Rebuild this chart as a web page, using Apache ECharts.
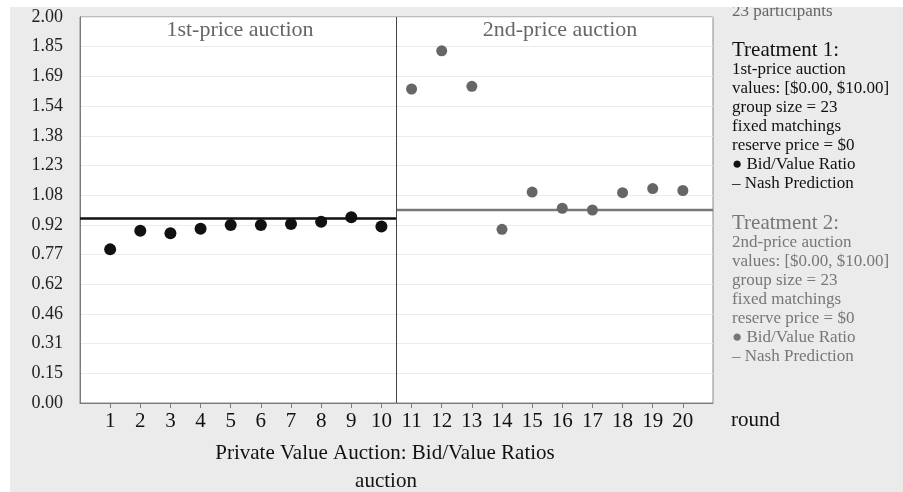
<!DOCTYPE html>
<html>
<head>
<meta charset="utf-8">
<script src="https://cdn.jsdelivr.net/npm/echarts@6/dist/echarts.min.js"></script>
<style>
  html, body { margin: 0; padding: 0; background: #fff; }
  #main { width: 903px; height: 492px; }
</style>
</head>
<body>
<div id="main"></div>
<script>
// 轮次
const rounds1 = [1, 2, 3, 4, 5, 6, 7, 8, 9, 10];
const rounds2 = [11, 12, 13, 14, 15, 16, 17, 18, 19, 20];
// 出价/价值比
const ratio1 = [0.796, 0.893, 0.879, 0.903, 0.922, 0.922, 0.927, 0.939, 0.962, 0.914];
const ratio2 = [1.627, 1.825, 1.641, 0.900, 1.093, 1.009, 1.000, 1.090, 1.111, 1.101];
// 纳什预测
const nash1 = 22 / 23;
const nash2 = 1.0;
// 坐标轴刻度
const yTickLabels = ["0.00", "0.15", "0.31", "0.46", "0.62", "0.77", "0.92",
  "1.08", "1.23", "1.38", "1.54", "1.69", "1.85", "2.00"];
const xTicks = rounds1.concat(rounds2);
const xMax = 21;
const split = 10.5;

const serif = "'Liberation Serif', 'DejaVu Serif', serif";

const chart = echarts.init(document.getElementById("main"), null, { renderer: "canvas" });

const pts1 = rounds1.map((r, i) => [r, ratio1[i]]);
const pts2 = rounds2.map((r, i) => [r, ratio2[i]]);

const options = {
  backgroundColor: "#ebebeb",
  animation: false,
  grid: {
    left: 80,
    top: 17,
    right: 190,
    bottom: 89,
    show: true,
    backgroundColor: "#fff",
    borderColor: "#8a8a8a",
    borderWidth: 1,
  },
  xAxis: {
    type: "value",
    min: 0,
    max: xMax,
    axisLine: { show: true, lineStyle: { color: "#7a7a7a", width: 1 } },
    axisTick: {
      show: true,
      customValues: xTicks,
      length: 5,
      lineStyle: { color: "#7a7a7a" },
    },
    axisLabel: {
      customValues: xTicks,
      fontFamily: serif,
      fontSize: 21,
      color: "#111",
      margin: 8,
    },
    splitLine: { show: false },
  },
  yAxis: {
    type: "value",
    min: 0,
    max: 2,
    interval: 2 / 13,
    axisLine: { show: true, lineStyle: { color: "#7a7a7a", width: 1 } },
    axisTick: { show: false },
    axisLabel: {
      fontFamily: serif,
      fontSize: 18,
      color: "#222",
      margin: 17,
      formatter: (v, i) => yTickLabels[i] ?? v.toFixed(2),
    },
    splitLine: { show: true, lineStyle: { color: "#ececec", width: 1 } },
  },
  series: [
    {
      name: "Nash 1",
      type: "line",
      data: [[0, nash1], [split, nash1]],
      showSymbol: false,
      lineStyle: { color: "#111", width: 2.5 },
      z: 3,
      markLine: {
        silent: true,
        symbol: "none",
        label: { show: false },
        lineStyle: { color: "#444", width: 1, type: "solid" },
        data: [{ xAxis: split }],
      },
    },
    {
      name: "Nash 2",
      type: "line",
      data: [[split, nash2], [xMax, nash2]],
      showSymbol: false,
      lineStyle: { color: "#777", width: 2.5 },
      z: 3,
    },
    {
      name: "Bid/Value 1",
      type: "scatter",
      data: pts1,
      symbolSize: 12,
      itemStyle: { color: "#111", opacity: 1 },
      z: 4,
    },
    {
      name: "Bid/Value 2",
      type: "scatter",
      data: pts2,
      symbolSize: 11,
      itemStyle: { color: "#666", opacity: 1 },
      z: 4,
    },
  ],
  graphic: [
    {
      type: "text", x: 240, y: 30, z: 10,
      style: { text: "1st-price auction", font: "22px " + serif, fill: "#666", textAlign: "center", textVerticalAlign: "middle" },
    },
    {
      type: "text", x: 560, y: 30, z: 10,
      style: { text: "2nd-price auction", font: "22px " + serif, fill: "#666", textAlign: "center", textVerticalAlign: "middle" },
    },
    {
      type: "text", x: 732, y: 12, z: 10,
      style: { text: "23 participants", font: "17px " + serif, fill: "#666", textVerticalAlign: "middle" },
    },
    {
      type: "text", x: 732, y: 50, z: 10,
      style: { text: "Treatment 1:", font: "21px " + serif, fill: "#111", textVerticalAlign: "middle" },
    },
    {
      type: "text", x: 732, y: 60, z: 10,
      style: {
        text: "1st-price auction\nvalues: [$0.00, $10.00]\ngroup size = 23\nfixed matchings\nreserve price = $0\n● Bid/Value Ratio\n– Nash Prediction",
        font: "17px " + serif, fill: "#111", lineHeight: 19, textVerticalAlign: "top",
      },
    },
    {
      type: "text", x: 732, y: 223, z: 10,
      style: { text: "Treatment 2:", font: "21px " + serif, fill: "#777", textVerticalAlign: "middle" },
    },
    {
      type: "text", x: 732, y: 233, z: 10,
      style: {
        text: "2nd-price auction\nvalues: [$0.00, $10.00]\ngroup size = 23\nfixed matchings\nreserve price = $0\n● Bid/Value Ratio\n– Nash Prediction",
        font: "17px " + serif, fill: "#777", lineHeight: 19, textVerticalAlign: "top",
      },
    },
    {
      type: "text", x: 731, y: 420, z: 10,
      style: { text: "round", font: "21px " + serif, fill: "#111", textVerticalAlign: "middle" },
    },
    {
      type: "text", x: 385, y: 453, z: 10,
      style: { text: "Private Value Auction: Bid/Value Ratios", font: "21px " + serif, fill: "#111", textAlign: "center", textVerticalAlign: "middle" },
    },
    {
      type: "text", x: 386, y: 481, z: 10,
      style: { text: "auction", font: "21px " + serif, fill: "#111", textAlign: "center", textVerticalAlign: "middle" },
    },
    // 白色边框
    { type: "rect", shape: { x: 0, y: 0, width: 903, height: 7 }, style: { fill: "#fff" }, z: 100 },
    { type: "rect", shape: { x: 0, y: 0, width: 10, height: 492 }, style: { fill: "#fff" }, z: 100 },
  ],
};

chart.setOption(options);
</script>
</body>
</html>
